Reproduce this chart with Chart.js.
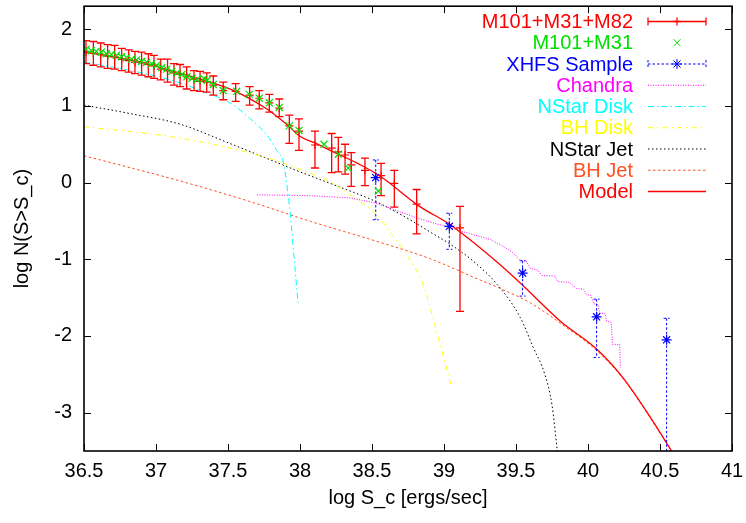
<!DOCTYPE html>
<html>
<head>
<meta charset="utf-8">
<script src="https://cdn.jsdelivr.net/npm/chart.js"></script>
<style>
  html, body { margin: 0; padding: 0; background: #fff; }
  canvas { display: block; }
</style>
</head>
<body>
<canvas id="lumFn" width="746" height="523"></canvas>
<script>
// data (log S_c, log N)
const galX  = [36.514, 36.565, 36.616, 36.664, 36.713, 36.762, 36.81, 36.854, 36.90, 36.947, 36.986, 37.033, 37.08, 37.125, 37.167, 37.213, 37.264, 37.306, 37.352, 37.398, 37.467, 37.553, 37.65, 37.717, 37.787, 37.856, 37.926, 37.993, 38.104, 38.22, 38.266, 38.313, 38.356, 38.451, 38.563, 38.655, 38.81, 39.111];
const galY  = [1.70, 1.69, 1.67, 1.65, 1.64, 1.61, 1.59, 1.57, 1.56, 1.54, 1.52, 1.48, 1.46, 1.43, 1.41, 1.38, 1.35, 1.32, 1.31, 1.27, 1.20, 1.19, 1.14, 1.10, 1.04, 0.97, 0.74, 0.67, 0.49, 0.45, 0.40, 0.36, 0.23, 0.16, 0.09, -0.01, -0.28, -0.59];
const galHi = [1.85, 1.84, 1.82, 1.80, 1.79, 1.75, 1.73, 1.71, 1.70, 1.68, 1.66, 1.61, 1.61, 1.55, 1.54, 1.51, 1.46, 1.45, 1.43, 1.39, 1.31, 1.29, 1.25, 1.20, 1.15, 1.09, 0.88, 0.83, 0.67, 0.64, 0.59, 0.50, 0.39, 0.32, 0.25, 0.16, -0.09, -0.31];
const galLo = [1.55, 1.53, 1.51, 1.49, 1.48, 1.46, 1.44, 1.42, 1.40, 1.38, 1.36, 1.34, 1.31, 1.27, 1.25, 1.22, 1.20, 1.19, 1.18, 1.14, 1.08, 1.06, 1.01, 0.96, 0.92, 0.86, 0.51, 0.42, 0.19, 0.13, 0.14, 0.11, -0.05, -0.04, -0.17, -0.32, -0.67, -1.68];

const grnX = [36.515, 36.55, 36.585, 36.62, 36.655, 36.69, 36.725, 36.76, 36.795, 36.83, 36.865, 36.90, 36.935, 36.97, 37.005, 37.04, 37.075, 37.11, 37.145, 37.18, 37.215, 37.25, 37.285, 37.333, 37.356, 37.398, 37.467, 37.56, 37.648, 37.717, 37.787, 37.856, 37.926, 37.993, 38.167, 38.266, 38.335, 38.544];
const grnY = [1.74, 1.72, 1.71, 1.70, 1.68, 1.67, 1.66, 1.64, 1.63, 1.61, 1.60, 1.58, 1.57, 1.55, 1.53, 1.50, 1.48, 1.45, 1.43, 1.41, 1.38, 1.36, 1.34, 1.355, 1.334, 1.28, 1.20, 1.19, 1.15, 1.10, 1.04, 0.98, 0.74, 0.68, 0.50, 0.37, 0.19, -0.11];

const xhfsX  = [38.526, 39.037, 39.546, 40.06, 40.546];
const xhfsY  = [0.065, -0.57, -1.18, -1.75, -2.05];
const xhfsHi = [0.295, -0.40, -1.02, -1.52, -1.77];
const xhfsLo = [-0.485, -0.87, -1.48, -2.28, -4.0];

const chandraX = [37.70, 38.07, 38.35, 38.53, 38.65, 38.81, 38.95, 39.02, 39.13, 39.32, 39.40, 39.47, 39.53, 39.57, 39.60, 39.65, 39.68, 39.77, 39.79, 39.87, 39.92, 39.97, 39.99, 40.02, 40.04, 40.07, 40.08, 40.12, 40.13, 40.16, 40.165, 40.17, 40.22, 40.225];
const chandraY = [-0.16, -0.17, -0.20, -0.27, -0.35, -0.46, -0.54, -0.57, -0.64, -0.74, -0.82, -0.90, -1.01, -1.02, -1.12, -1.14, -1.21, -1.22, -1.29, -1.30, -1.38, -1.39, -1.46, -1.47, -1.58, -1.59, -1.70, -1.71, -1.81, -1.82, -1.94, -2.11, -2.11, -2.41];

const nsDiskX = [36.5, 36.8, 37.1, 37.31, 37.54, 37.65, 37.77, 37.838, 37.884, 37.896, 37.931, 37.965, 37.988];
const nsDiskY = [1.57, 1.47, 1.34, 1.20, 1.01, 0.84, 0.62, 0.42, 0.27, 0.14, -0.38, -1.11, -1.61];

const bhDiskX = [36.5, 37.167, 37.743, 37.977, 38.047, 38.208, 38.347, 38.533, 38.625, 38.74, 38.856, 38.94, 39.053];
const bhDiskY = [0.73, 0.58, 0.34, 0.19, 0.14, 0.01, -0.16, -0.42, -0.64, -0.94, -1.33, -1.88, -2.67];

const nsJetX = [36.5, 36.82, 37.17, 37.5, 37.75, 38.0, 38.25, 38.53, 38.75, 38.9, 39.04, 39.2, 39.37, 39.53, 39.62, 39.70, 39.75, 39.787];
const nsJetY = [1.01, 0.90, 0.76, 0.52, 0.33, 0.14, -0.04, -0.25, -0.47, -0.64, -0.80, -1.02, -1.33, -1.76, -2.15, -2.50, -2.90, -3.50];

const bhJetX = [36.5, 36.85, 37.17, 37.64, 38.08, 38.54, 38.9, 39.25, 39.39, 39.6, 39.85, 40.06, 40.245, 40.45, 40.58];
const bhJetY = [0.35, 0.18, 0.02, -0.24, -0.51, -0.77, -0.99, -1.27, -1.38, -1.57, -1.89, -2.19, -2.56, -3.12, -3.50];

const modelX = [36.5, 36.7, 36.9, 37.1, 37.31, 37.54, 37.77, 37.856, 37.926, 37.993, 38.1, 38.21, 38.4, 38.56, 38.83, 39.02, 39.11, 39.39, 39.53, 39.81, 40.06, 40.245, 40.45, 40.58];
const modelY = [1.70, 1.64, 1.57, 1.46, 1.35, 1.20, 0.96, 0.84, 0.73, 0.61, 0.52, 0.42, 0.25, 0.08, -0.31, -0.52, -0.64, -1.07, -1.31, -1.81, -2.17, -2.55, -3.11, -3.50];

const xTicks = [36.5, 37, 37.5, 38, 38.5, 39, 39.5, 40, 40.5, 41];
const yTicks = [-3, -2, -1, 0, 1, 2];

const FONT = '"Liberation Sans", Arial, Helvetica, sans-serif';
const RED = '#ff0000', GREEN = '#00e000', BLUE = '#0000ff', MAGENTA = '#ff00ff',
      CYAN = '#00ffff', YELLOW = '#ffff00', BLACK = '#000000', ORANGE = '#ff5020';

const pts = (xs, ys) => xs.map((x, i) => ({ x, y: ys[i] }));

function curve(label, xs, ys, color, dash, order, extra) {
  return Object.assign({
    label, data: pts(xs, ys), showLine: true, borderColor: color, backgroundColor: color,
    borderWidth: 1, borderDash: dash, pointRadius: 0, fill: false,
    cubicInterpolationMode: 'monotone', order
  }, extra || {});
}

const datasets = [
  { label: 'M101+M31+M82', data: pts(galX, galY), borderColor: RED, backgroundColor: RED,
    pointStyle: 'cross', pointRadius: 4, pointBorderWidth: 1.2, order: 2, legendKind: 'errbar' },
  { label: 'M101+M31', data: pts(grnX, grnY), borderColor: GREEN, backgroundColor: GREEN,
    pointStyle: 'crossRot', pointRadius: 5, pointBorderWidth: 1.2, order: 1, legendKind: 'marker' },
  { label: 'XHFS Sample', data: pts(xhfsX, xhfsY), borderColor: BLUE, backgroundColor: BLUE,
    pointStyle: 'star', pointRadius: 5, pointBorderWidth: 1.2, order: 3, legendKind: 'xhfs' },
  curve('Chandra', chandraX, chandraY, MAGENTA, [1, 1.5], 5, { cubicInterpolationMode: 'default', tension: 0 }),
  curve('NStar Disk', nsDiskX, nsDiskY, CYAN, [6, 3, 1.5, 3], 6),
  curve('BH Disk', bhDiskX, bhDiskY, YELLOW, [5, 4, 1.5, 4], 7),
  curve('NStar Jet', nsJetX, nsJetY, BLACK, [1.5, 2.5], 8),
  curve('BH Jet', bhJetX, bhJetY, ORANGE, [2.5, 2.5], 9),
  curve('Model', modelX, modelY, RED, [], 4, { borderWidth: 1.3 })
];

function errorBars(ctx, xs, lo, hi, sx, sy, color, dash, cap, width) {
  ctx.strokeStyle = color;
  ctx.lineWidth = width;
  ctx.setLineDash(dash);
  xs.forEach((v, i) => {
    const px = sx.getPixelForValue(v);
    const p1 = sy.getPixelForValue(hi[i]);
    const p2 = sy.getPixelForValue(lo[i]);
    ctx.beginPath();
    ctx.moveTo(px, p1); ctx.lineTo(px, p2);
    ctx.moveTo(px - cap, p1); ctx.lineTo(px + cap, p1);
    ctx.moveTo(px - cap, p2); ctx.lineTo(px + cap, p2);
    ctx.stroke();
  });
}

// error bars go under their own markers
const barsPlugin = {
  id: 'bars',
  beforeDatasetDraw(chart, args) {
    const { ctx, chartArea: a, scales: { x, y } } = chart;
    if (args.index !== 0 && args.index !== 2) return;
    ctx.save();
    ctx.beginPath();
    ctx.rect(a.left, a.top, a.right - a.left, a.bottom - a.top);
    ctx.clip();
    if (args.index === 0) errorBars(ctx, galX, galLo, galHi, x, y, RED, [], 4, 1.3);
    else errorBars(ctx, xhfsX, xhfsLo, xhfsHi, x, y, BLUE, [2.5, 2], 3, 1);
    ctx.restore();
  }
};

// gnuplot-like frame with inward ticks on all four sides
const framePlugin = {
  id: 'frame',
  afterDatasetsDraw(chart) {
    const { ctx, chartArea: a, scales: { x, y } } = chart;
    ctx.save();
    ctx.strokeStyle = '#000';
    ctx.lineWidth = 1;
    ctx.setLineDash([]);
    ctx.beginPath();
    xTicks.forEach(v => {
      const px = Math.round(x.getPixelForValue(v)) + 0.5;
      ctx.moveTo(px, a.bottom); ctx.lineTo(px, a.bottom - 7);
      ctx.moveTo(px, a.top); ctx.lineTo(px, a.top + 7);
    });
    yTicks.forEach(v => {
      const py = Math.round(y.getPixelForValue(v)) + 0.5;
      ctx.moveTo(a.left, py); ctx.lineTo(a.left + 7, py);
      ctx.moveTo(a.right, py); ctx.lineTo(a.right - 7, py);
    });
    ctx.stroke();
    ctx.lineWidth = 1.6;
    ctx.strokeRect(a.left, a.top, a.right - a.left, a.bottom - a.top);
    ctx.restore();
  }
};

// right-aligned key in the top right corner, like gnuplot
const keyPlugin = {
  id: 'key',
  afterDraw(chart) {
    const ctx = chart.ctx;
    const textRight = 633, x1 = 648, x2 = 706, xm = (x1 + x2) / 2;
    ctx.save();
    ctx.font = '20px ' + FONT;
    ctx.textAlign = 'right';
    ctx.textBaseline = 'middle';
    chart.data.datasets.forEach((ds, i) => {
      const yy = 21.5 + i * 21.25;
      const col = ds.borderColor;
      ctx.fillStyle = col;
      ctx.fillText(ds.label, textRight, yy + 1);
      ctx.strokeStyle = col;
      ctx.lineWidth = 1;
      if (ds.legendKind === 'marker') {
        Chart.helpers.drawPoint(ctx, { pointStyle: ds.pointStyle, radius: ds.pointRadius, borderWidth: 1 }, xm, yy);
        return;
      }
      if (ds.legendKind === 'errbar' || ds.legendKind === 'xhfs') {
        ctx.lineWidth = ds.legendKind === 'errbar' ? 1.3 : 1;
        ctx.setLineDash(ds.legendKind === 'xhfs' ? [2.5, 2] : []);
        ctx.beginPath();
        ctx.moveTo(x1, yy); ctx.lineTo(x2, yy);
        ctx.moveTo(x1, yy - 4); ctx.lineTo(x1, yy + 4);
        ctx.moveTo(x2, yy - 4); ctx.lineTo(x2, yy + 4);
        ctx.stroke();
        ctx.setLineDash([]);
        Chart.helpers.drawPoint(ctx, { pointStyle: ds.pointStyle, radius: ds.pointRadius, borderWidth: 1.2 }, xm, yy);
        return;
      }
      ctx.lineWidth = ds.borderWidth;
      ctx.setLineDash(ds.borderDash || []);
      ctx.beginPath();
      ctx.moveTo(x1, yy); ctx.lineTo(x2, yy);
      ctx.stroke();
      ctx.setLineDash([]);
    });
    ctx.restore();
  }
};

new Chart(document.getElementById('lumFn'), {
  type: 'scatter',
  data: { datasets },
  plugins: [barsPlugin, framePlugin, keyPlugin],
  options: {
    responsive: false,
    animation: false,
    events: [],
    layout: { padding: { top: 3, right: 14, left: 0, bottom: 0 } },
    plugins: { legend: { display: false }, tooltip: { enabled: false } },
    scales: {
      x: {
        type: 'linear', min: 36.5, max: 41,
        afterFit: s => { s.height = 72; s.paddingLeft = 0; s.paddingRight = 0; },
        afterBuildTicks: s => { s.ticks = xTicks.map(v => ({ value: v })); },
        ticks: { padding: 8, color: '#000', font: { family: FONT, size: 20 }, maxRotation: 0,
                 callback: v => String(v) },
        grid: { display: false, drawTicks: false },
        border: { display: false },
        title: { display: true, text: 'log S_c [ergs/sec]', color: '#000',
                 font: { family: FONT, size: 20 }, padding: { top: 0, bottom: 13 } }
      },
      y: {
        type: 'linear', min: -3.5, max: 2.3,
        afterFit: s => { s.width = 84; s.paddingTop = 0; s.paddingBottom = 0; },
        afterBuildTicks: s => { s.ticks = yTicks.map(v => ({ value: v })); },
        ticks: { padding: 12, color: '#000', font: { family: FONT, size: 20 },
                 callback: v => String(v) },
        grid: { display: false, drawTicks: false },
        border: { display: false },
        title: { display: true, text: 'log N(S>S_c)', color: '#000',
                 font: { family: FONT, size: 20 }, padding: { top: 10, bottom: 0 } }
      }
    }
  }
});
</script>
</body>
</html>
